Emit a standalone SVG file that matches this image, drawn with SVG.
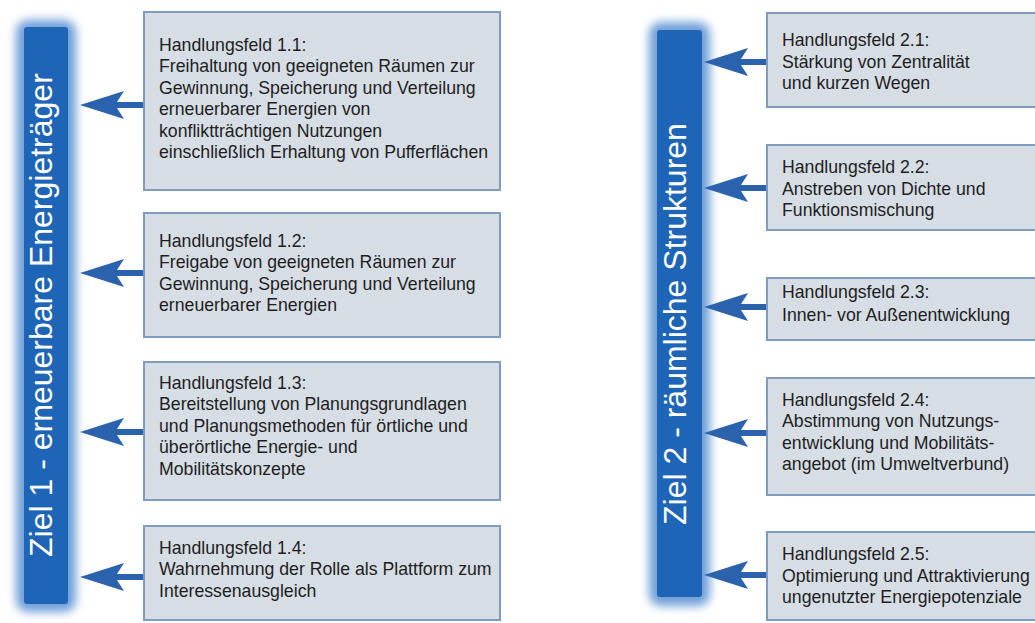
<svg xmlns="http://www.w3.org/2000/svg" width="1035" height="623" viewBox="0 0 1035 623">
<defs>
<filter id="glow" x="-50%" y="-10%" width="200%" height="120%"><feGaussianBlur stdDeviation="5"/></filter>
<path id="arr" d="M0,0 L44,-14 L37,-3 L65,-3 L65,3 L37,3 L44,14 Z"/>
</defs>
<style>
.box{fill:#d6dde5;stroke:#7f9cc0;stroke-width:2}
.t{font-family:"Liberation Sans",Arial,sans-serif;font-size:17.7px;fill:#1e1e1e}
.bt{font-family:"Liberation Sans",Arial,sans-serif;font-size:32px;fill:#ffffff}
.a{fill:#2a62ad}
.glow{fill:#6f9fd8;filter:url(#glow)}
.bar{fill:#1f65b7}
</style>
<rect width="1035" height="623" fill="#ffffff"/>

<g id="ziel1">
<rect class="glow" x="16" y="20" width="60" height="592" rx="12"/>
<rect class="bar" x="24" y="27" width="44" height="577" rx="3"/>
<text class="bt" transform="translate(52,557) rotate(-90)">Ziel 1 - erneuerbare Energieträger</text>
</g>
<g id="ziel2">
<rect class="glow" x="649" y="22" width="61" height="584" rx="12"/>
<rect class="bar" x="657" y="30" width="45" height="567" rx="3"/>
<text class="bt" transform="translate(686,525) rotate(-90)">Ziel 2 - räumliche Strukturen</text>
</g>

<g id="connectors">
<use href="#arr" class="a" transform="translate(80,105)"/>
<use href="#arr" class="a" transform="translate(80,273)"/>
<use href="#arr" class="a" transform="translate(80,432)"/>
<use href="#arr" class="a" transform="translate(80,577)"/>
<use href="#arr" class="a" transform="translate(704,62)"/>
<use href="#arr" class="a" transform="translate(704,188)"/>
<use href="#arr" class="a" transform="translate(704,307)"/>
<use href="#arr" class="a" transform="translate(704,433)"/>
<use href="#arr" class="a" transform="translate(704,575)"/>
</g>

<g id="hf11">
<rect class="box" x="144" y="12" width="356" height="178"/>
<text class="t" x="159" y="51">Handlungsfeld 1.1:
<tspan x="159" dy="21.4">Freihaltung von geeigneten Räumen zur</tspan>
<tspan x="159" dy="21.4">Gewinnung, Speicherung und Verteilung</tspan>
<tspan x="159" dy="21.4">erneuerbarer Energien von</tspan>
<tspan x="159" dy="21.4">konfliktträchtigen Nutzungen</tspan>
<tspan x="159" dy="21.4">einschließlich Erhaltung von Pufferflächen</tspan></text>
</g>
<g id="hf12">
<rect class="box" x="144" y="213" width="356" height="124"/>
<text class="t" x="159" y="247">Handlungsfeld 1.2:
<tspan x="159" dy="21.4">Freigabe von geeigneten Räumen zur</tspan>
<tspan x="159" dy="21.4">Gewinnung, Speicherung und Verteilung</tspan>
<tspan x="159" dy="21.4">erneuerbarer Energien</tspan></text>
</g>
<g id="hf13">
<rect class="box" x="144" y="362" width="356" height="138"/>
<text class="t" x="159" y="389">Handlungsfeld 1.3:
<tspan x="159" dy="21.4">Bereitstellung von Planungsgrundlagen</tspan>
<tspan x="159" dy="21.4">und Planungsmethoden für örtliche und</tspan>
<tspan x="159" dy="21.4">überörtliche Energie- und</tspan>
<tspan x="159" dy="21.4">Mobilitätskonzepte</tspan></text>
</g>
<g id="hf14">
<rect class="box" x="144" y="526" width="356" height="94"/>
<text class="t" x="159" y="554">Handlungsfeld 1.4:
<tspan x="159" dy="21.4">Wahrnehmung der Rolle als Plattform zum</tspan>
<tspan x="159" dy="21.4">Interessenausgleich</tspan></text>
</g>

<g id="hf21">
<rect class="box" x="767" y="13" width="280" height="94"/>
<text class="t" x="782" y="46">Handlungsfeld 2.1:
<tspan x="782" dy="21.6">Stärkung von Zentralität</tspan>
<tspan x="782" dy="21.6">und kurzen Wegen</tspan></text>
</g>
<g id="hf22">
<rect class="box" x="767" y="145" width="280" height="85"/>
<text class="t" x="782" y="173">Handlungsfeld 2.2:
<tspan x="782" dy="21.6">Anstreben von Dichte und</tspan>
<tspan x="782" dy="21.6">Funktionsmischung</tspan></text>
</g>
<g id="hf23">
<rect class="box" x="767" y="278" width="280" height="62"/>
<text class="t" x="782" y="298">Handlungsfeld 2.3:
<tspan x="782" dy="23">Innen- vor Außenentwicklung</tspan></text>
</g>
<g id="hf24">
<rect class="box" x="767" y="378" width="280" height="117"/>
<text class="t" x="782" y="406">Handlungsfeld 2.4:
<tspan x="782" dy="21.4">Abstimmung von Nutzungs-</tspan>
<tspan x="782" dy="21.4">entwicklung und Mobilitäts-</tspan>
<tspan x="782" dy="21.4">angebot (im Umweltverbund)</tspan></text>
</g>
<g id="hf25">
<rect class="box" x="767" y="532" width="280" height="88"/>
<text class="t" x="782" y="560">Handlungsfeld 2.5:
<tspan x="782" dy="21.6">Optimierung und Attraktivierung</tspan>
<tspan x="782" dy="21.6">ungenutzter Energiepotenziale</tspan></text>
</g>
</svg>
